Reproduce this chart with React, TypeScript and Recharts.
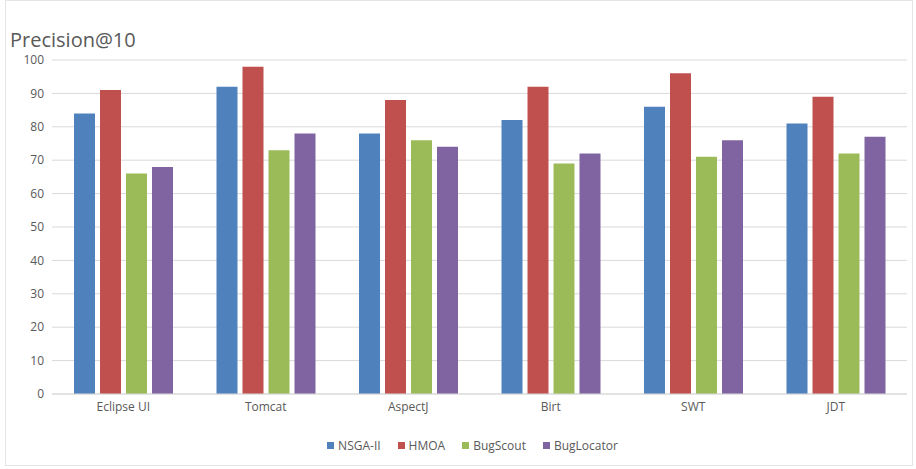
import React from "react";

import { BarChart, Bar, XAxis, YAxis, CartesianGrid, Legend } from "recharts";

const projects = ["Eclipse UI", "Tomcat", "AspectJ", "Birt", "SWT", "JDT"];
const nsga = [84, 92, 78, 82, 86, 81];
const hmoa = [91, 98, 88, 92, 96, 89];
const bugScout = [66, 73, 76, 69, 71, 72];
const bugLocator = [68, 78, 74, 72, 76, 77];
const yTicks = [0, 10, 20, 30, 40, 50, 60, 70, 80, 90, 100];

const series = [
  { key: "NSGA-II", color: "#4F81BD" },
  { key: "HMOA", color: "#C0504D" },
  { key: "BugScout", color: "#9BBB59" },
  { key: "BugLocator", color: "#8064A2" },
];

const data = projects.map((name, i) => ({
  name,
  "NSGA-II": nsga[i],
  HMOA: hmoa[i],
  BugScout: bugScout[i],
  BugLocator: bugLocator[i],
}));

const font = "'Open Sans', 'DejaVu Sans', sans-serif";

// legend in series order, small squares like the spreadsheet default
function SeriesLegend() {
  return (
    <div
      style={{
        display: "flex",
        justifyContent: "center",
        gap: 17,
        fontSize: 12,
        color: "#595959",
        fontFamily: font,
        paddingLeft: 26,
      }}
    >
      {series.map((s) => (
        <div key={s.key} style={{ display: "flex", alignItems: "center" }}>
          <span
            style={{
              width: 7,
              height: 7,
              background: s.color,
              marginRight: 4,
              display: "inline-block",
            }}
          />
          {s.key}
        </div>
      ))}
    </div>
  );
}

export default function App() {
  return (
    <div
      style={{
        position: "absolute",
        left: 0,
        top: 0,
        width: 916,
        height: 469,
        background: "#fff",
        fontFamily: font,
      }}
    >
      <div
        style={{
          position: "absolute",
          left: 5,
          top: 0,
          width: 908,
          height: 466,
          border: "1px solid #e4e4e4",
          boxSizing: "border-box",
        }}
      />
      <div
        style={{
          position: "absolute",
          left: 10,
          top: 26,
          fontSize: 20,
          color: "#595959",
        }}
      >
        Precision@10
      </div>
      <BarChart
        width={916}
        height={469}
        data={data}
        margin={{ top: 60, right: 9, left: 12, bottom: 27 }}
        barSize={21}
        barGap={5}
      >
        <CartesianGrid vertical={false} stroke="#d9d9d9" />
        <XAxis
          dataKey="name"
          tickLine={false}
          axisLine={{ stroke: "#d9d9d9" }}
          tick={{ fill: "#595959", fontSize: 12, fontFamily: font }}
          height={30}
        />
        <YAxis
          domain={[0, 100]}
          ticks={yTicks}
          width={40}
          tickLine={false}
          axisLine={false}
          tick={{ fill: "#595959", fontSize: 12, fontFamily: font }}
        />
        <Legend
          content={<SeriesLegend />}
          height={18}
          wrapperStyle={{ bottom: 14 }}
        />
        {series.map((s) => (
          <Bar
            key={s.key}
            dataKey={s.key}
            fill={s.color}
            isAnimationActive={false}
          />
        ))}
      </BarChart>
    </div>
  );
}
